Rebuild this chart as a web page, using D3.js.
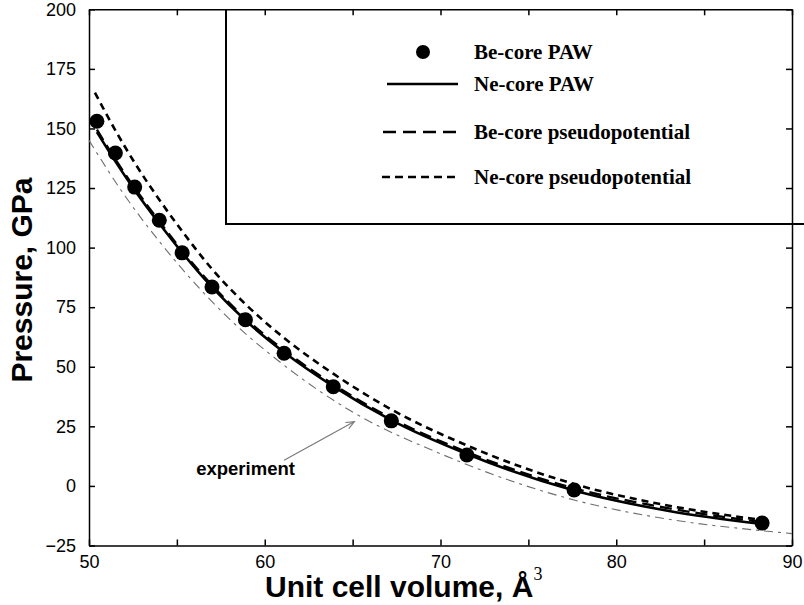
<!DOCTYPE html>
<html>
<head>
<meta charset="utf-8">
<script src="https://cdn.jsdelivr.net/npm/d3@7"></script>
<style>
  body { margin: 0; background: #fff; }
  .tick text { font-family: "Liberation Sans", Arial, sans-serif; font-size: 18px; fill: #000; }
  .axis path, .axis line { stroke: #000; stroke-width: 1.5; }
</style>
</head>
<body>
<div id="chart"></div>
<script>
// Be-core PAW (dots)
var dotVol = [50.45, 51.5, 52.6, 54.0, 55.3, 57.0, 58.9, 61.1, 63.9, 67.2, 71.5, 77.6, 88.3];
var dotP   = [153, 139.7, 125.4, 111.5, 97.8, 83.5, 69.7, 55.7, 41.6, 27.3, 13.0, -1.7, -15.6];

// Ne-core PAW (solid)
var neVol = [50.45, 51.5, 52.6, 54, 55.3, 57, 58.9, 61.1, 63.9, 67.2, 71.5, 77.6, 83, 88.3];
var neP   = [148.5, 136.2, 124.1, 110.1, 97.9, 83.4, 69.5, 56.1, 41.8, 27.6, 13.4, -1.9, -10.5, -16.0];

// Be-core pseudopotential (long dash)
var bePsVol = [50.45, 51.5, 52.6, 54, 55.3, 57, 58.9, 61.1, 63.9, 67.2, 71.5, 77.6, 83, 88.3];
var bePsP   = [149.5, 137, 125, 111, 98.7, 84.2, 70.3, 56.9, 42.6, 28.4, 14.2, -1.0, -9.4, -15.2];

// Ne-core pseudopotential (short dash)
var nePsVol = [50.34, 51.5, 52.6, 54, 55.3, 57, 58.9, 61.1, 63.9, 67.2, 71.5, 77.6, 83, 88.3];
var nePsP   = [165, 149.2, 135.6, 120.1, 106.9, 91, 76.3, 62.1, 47.1, 32.1, 17, 0.8, -8.3, -14.3];

// experiment (grey dash-dot)
var expVol = [50, 52, 54, 56, 58, 61, 65, 70, 77.6, 83, 88.3, 90];
var expP   = [145, 122.2, 102.6, 85.2, 70, 51.2, 31, 13.5, -5.9, -14, -18.8, -20];

var xTicks = [50, 55, 60, 65, 70, 75, 80, 85, 90];
var yTicks = [-25, 0, 25, 50, 75, 100, 125, 150, 175, 200];
var legendLabels = ["Be-core PAW", "Ne-core PAW", "Be-core pseudopotential", "Ne-core pseudopotential"];

// annotation: label position and arrow (data units)
var noteText = "experiment";
var notePos = [56.1, 4.6];
var arrowFrom = [61.1, 10.8];
var arrowTo = [65.1, 27.0];

var svgWidth = 804;
var svgHeight = 605;
var margin = { top: 9.3, right: 12, bottom: 59.5, left: 89 };
var width = svgWidth - margin.left - margin.right;
var height = svgHeight - margin.top - margin.bottom;

var svg = d3.select("#chart").append("svg")
  .attr("width", svgWidth).attr("height", svgHeight)
  .style("background", "#fff");

var chartGroup = svg.append("g").attr("transform", `translate(${margin.left}, ${margin.top})`);

var x = d3.scaleLinear().domain([50, 90]).range([0, width]);
var y = d3.scaleLinear().domain([-25, 200]).range([height, 0]);

// axes, ticks inward on all four sides
chartGroup.append("g").attr("class", "axis")
  .attr("transform", `translate(0, ${height})`)
  .call(d3.axisBottom(x).tickValues(xTicks).tickSizeInner(-6).tickSizeOuter(0).tickPadding(10)
    .tickFormat(d => d % 10 === 0 ? d : ""));
chartGroup.append("g").attr("class", "axis")
  .call(d3.axisTop(x).tickValues(xTicks).tickSizeInner(-6).tickSizeOuter(0).tickFormat(""));
chartGroup.append("g").attr("class", "axis")
  .call(d3.axisLeft(y).tickValues(yTicks).tickSizeInner(-6).tickSizeOuter(0).tickPadding(13));
chartGroup.append("g").attr("class", "axis")
  .attr("transform", `translate(${width}, 0)`)
  .call(d3.axisRight(y).tickValues(yTicks).tickSizeInner(-6).tickSizeOuter(0).tickFormat(""));

function pts(vs, ps) { return vs.map((v, i) => [v, ps[i]]); }

var line = d3.line().x(d => x(d[0])).y(d => y(d[1])).curve(d3.curveMonotoneX);

// experiment
chartGroup.append("path").attr("d", line(pts(expVol, expP)))
  .attr("fill", "none").attr("stroke", "#6e6e6e").attr("stroke-width", 1.1)
  .attr("stroke-dasharray", "9,5,3,5");

// Ne-core pseudopotential
chartGroup.append("path").attr("d", line(pts(nePsVol, nePsP)))
  .attr("fill", "none").attr("stroke", "#000").attr("stroke-width", 2.6)
  .attr("stroke-dasharray", "7,5");

// Be-core pseudopotential
chartGroup.append("path").attr("d", line(pts(bePsVol, bePsP)))
  .attr("fill", "none").attr("stroke", "#000").attr("stroke-width", 2.4)
  .attr("stroke-dasharray", "12,6");

// Ne-core PAW
chartGroup.append("path").attr("d", line(pts(neVol, neP)))
  .attr("fill", "none").attr("stroke", "#000").attr("stroke-width", 2.6);

// Be-core PAW dots
chartGroup.selectAll("circle.dot").data(pts(dotVol, dotP)).enter().append("circle")
  .attr("class", "dot")
  .attr("cx", d => x(d[0])).attr("cy", d => y(d[1]))
  .attr("r", 7.5).attr("fill", "#000");

// annotation
chartGroup.append("line")
  .attr("x1", x(arrowFrom[0])).attr("y1", y(arrowFrom[1]))
  .attr("x2", x(arrowTo[0])).attr("y2", y(arrowTo[1]))
  .attr("stroke", "#777").attr("stroke-width", 1.1);
var ang = Math.atan2(y(arrowTo[1]) - y(arrowFrom[1]), x(arrowTo[0]) - x(arrowFrom[0]));
var hx = x(arrowTo[0]), hy = y(arrowTo[1]);
chartGroup.append("path")
  .attr("d", `M${hx - 9 * Math.cos(ang - 0.4)},${hy - 9 * Math.sin(ang - 0.4)}L${hx},${hy}L${hx - 9 * Math.cos(ang + 0.4)},${hy - 9 * Math.sin(ang + 0.4)}`)
  .attr("fill", "none").attr("stroke", "#777").attr("stroke-width", 1.1);
chartGroup.append("text")
  .attr("x", x(notePos[0])).attr("y", y(notePos[1]))
  .style("font-family", "Liberation Sans, Arial, sans-serif")
  .style("font-size", "18.5px").style("font-weight", "bold")
  .text(noteText);

// legend box (runs past the right axis to the edge)
svg.append("path")
  .attr("d", `M226,${margin.top}V224H${svgWidth}`)
  .attr("fill", "none").attr("stroke", "#000").attr("stroke-width", 2);

var legendY = [52, 84, 132, 177];
var lg = svg.append("g");
lg.append("circle").attr("cx", 423).attr("cy", legendY[0]).attr("r", 7).attr("fill", "#000");
lg.append("line").attr("x1", 387).attr("x2", 458).attr("y1", legendY[1]).attr("y2", legendY[1])
  .attr("stroke", "#000").attr("stroke-width", 2.4);
lg.append("line").attr("x1", 383).attr("x2", 458).attr("y1", legendY[2]).attr("y2", legendY[2])
  .attr("stroke", "#000").attr("stroke-width", 2.4).attr("stroke-dasharray", "13,7");
lg.append("line").attr("x1", 382).attr("x2", 458).attr("y1", legendY[3]).attr("y2", legendY[3])
  .attr("stroke", "#000").attr("stroke-width", 2.4).attr("stroke-dasharray", "8,5");
lg.selectAll("text").data(legendLabels).enter().append("text")
  .attr("x", 474).attr("y", (d, i) => legendY[i]).attr("dy", "0.35em")
  .style("font-family", "Liberation Serif, 'Times New Roman', serif")
  .style("font-size", "21px").style("font-weight", "bold")
  .text(d => d);

// axis titles
var xt = svg.append("text")
  .attr("x", 265).attr("y", 597)
  .style("font-family", "Liberation Sans, Arial, sans-serif")
  .style("font-size", "30px").style("font-weight", "bold");
xt.append("tspan").text("Unit cell volume, Å");
xt.append("tspan").attr("dy", -17).style("font-size", "18px").style("font-weight", "normal")
  .style("font-family", "Liberation Serif, 'Times New Roman', serif").text("3");

svg.append("text")
  .attr("transform", "translate(32, 280) rotate(-90)")
  .attr("text-anchor", "middle")
  .style("font-family", "Liberation Sans, Arial, sans-serif")
  .style("font-size", "30px").style("font-weight", "bold")
  .text("Pressure, GPa");
</script>
</body>
</html>
